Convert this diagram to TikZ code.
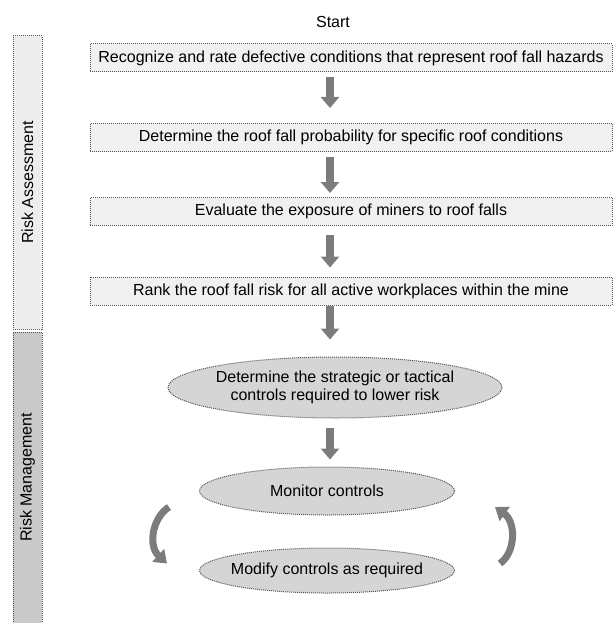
\documentclass[tikz,border=0pt]{standalone}
\usepackage{fontspec}
\setmainfont{Liberation Sans}
\usetikzlibrary{shapes.geometric,arrows.meta,calc}
\definecolor{boxfill}{HTML}{F0F0F0}
\definecolor{boxline}{HTML}{555555}
\definecolor{ellfill}{HTML}{D5D5D5}
\definecolor{barone}{HTML}{EDEDED}
\definecolor{bartwo}{HTML}{C9C9C9}
\definecolor{arrowcol}{HTML}{7C7C7C}
\tikzset{
  txt/.style={font=\fontsize{16}{18.5}\selectfont},
  stepbox/.style={txt, draw=boxline, densely dotted, line width=1pt, fill=boxfill,
    minimum width=522pt, minimum height=28pt, inner sep=0pt},
  ellbox/.style={txt, ellipse, draw=boxline, densely dotted, line width=1pt, fill=ellfill,
    inner sep=0pt, align=center},
  sidebar/.style={txt, draw=boxline, densely dotted, line width=1pt,
    minimum width=29pt, inner sep=0pt},
  downarrow/.style={draw=arrowcol, line width=8pt, -{Triangle[width=18pt,length=11pt]}},
  curvearrow/.style={draw=arrowcol, line width=7pt, -{Triangle[width=17pt,length=12pt]}},
}
\begin{document}
\begin{tikzpicture}[x=1pt,y=-1pt]
\useasboundingbox (0,0) rectangle (613,623);
% side bars
\node[sidebar, fill=barone, minimum height=293pt] (ra) at (27.5,182.5) {};
\node[txt, rotate=90] (ratext) at (ra.center) {Risk Assessment};
\node[sidebar, fill=bartwo, minimum height=291pt] (rm) at (27.5,477.5) {};
\node[txt, rotate=90] (rmtext) at (rm.center) {Risk Management};
% flow
\coordinate (axis) at (330,0);
\node[txt] (start) at (333,22) {Start};
\node[stepbox] (b1) at (351,58) {Recognize and rate defective conditions that represent roof fall hazards};
\node[stepbox] (b2) at (351,137.5) {Determine the roof fall probability for specific roof conditions};
\node[stepbox] (b3) at (351,211.5) {Evaluate the exposure of miners to roof falls};
\node[stepbox] (b4) at (351,291) {Rank the roof fall risk for all active workplaces within the mine};
\node[ellbox, minimum width=334pt, minimum height=61pt] (e1) at (335,387.5)
  {\makebox[150pt]{Determine the strategic or tactical}\\\makebox[150pt]{controls required to lower risk}};
\node[ellbox, minimum width=255pt, minimum height=48pt] (e2) at (327,491) {\makebox[100pt]{Monitor controls}};
\node[ellbox, minimum width=255pt, minimum height=45pt] (e3) at (327,570.5) {\makebox[100pt]{Modify controls as required}};
% straight arrows
\draw[downarrow, shorten <=5pt, shorten >=15pt] (b1.south -| axis) -- (b2.north -| axis);
\draw[downarrow, shorten <=5pt, shorten >=4pt] (b2.south -| axis) -- (b3.north -| axis);
\draw[downarrow, shorten <=9pt, shorten >=9pt] (b3.south -| axis) -- (b4.north -| axis);
\draw[downarrow, shorten <=0pt, shorten >=17pt] (b4.south -| axis) -- (e1.north -| axis);
\draw[downarrow, shorten <=9pt, shorten >=7pt] (e1.south -| axis) -- (e2.north -| axis);
% cycle arrows
\coordinate (lt) at ($(e2.west)+(-30,16)$);
\coordinate (lb) at ($(e3.west)+(-32,-7)$);
\coordinate (rb) at ($(e3.east)+(45,-7)$);
\coordinate (rt) at ($(e2.east)+(40,16)$);
\draw[curvearrow] (lt) .. controls (152,518) and (148,546) .. (lb);
\draw[curvearrow] (rb) .. controls (516,552) and (516,522) .. (rt);
\end{tikzpicture}
\end{document}
